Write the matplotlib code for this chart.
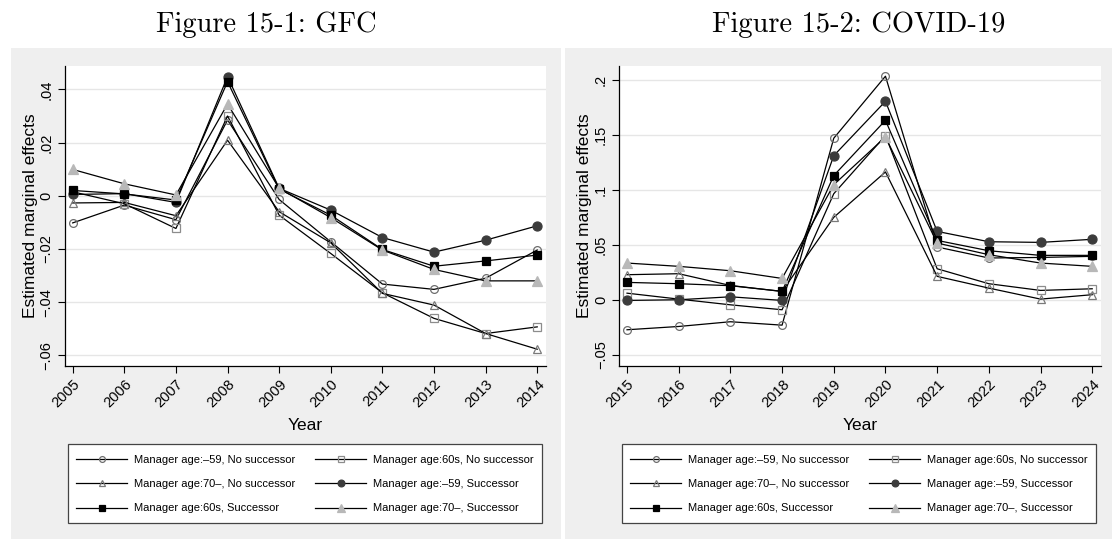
import numpy as np
import matplotlib
matplotlib.use("Agg")
import matplotlib.pyplot as plt
from matplotlib.patches import Rectangle

plt.rcParams['font.family'] = ['Liberation Sans', 'DejaVu Sans']

# Data

years_gfc = [2005, 2006, 2007, 2008, 2009, 2010, 2011, 2012, 2013, 2014]
gfc_u59_no = [-0.0102, -0.0035, -0.0090, 0.0285, -0.0014, -0.0173, -0.0332, -0.0352, -0.0310, -0.0204]
gfc_60s_no = [0.0015, -0.0030, -0.0123, 0.0300, -0.0073, -0.0217, -0.0365, -0.0461, -0.0518, -0.0493]
gfc_70_no = [-0.0027, -0.0025, -0.0075, 0.0209, -0.0060, -0.0177, -0.0367, -0.0411, -0.0518, -0.0577]
gfc_u59_s = [0.0005, 0.0008, -0.0025, 0.0448, 0.0028, -0.0054, -0.0157, -0.0212, -0.0167, -0.0113]
gfc_60s_s = [0.0020, 0.0007, -0.0016, 0.0429, 0.0025, -0.0073, -0.0202, -0.0265, -0.0245, -0.0223]
gfc_70_s = [0.0099, 0.0045, 0.0003, 0.0345, 0.0028, -0.0082, -0.0204, -0.0277, -0.0320, -0.0320]

years_cov = [2015, 2016, 2017, 2018, 2019, 2020, 2021, 2022, 2023, 2024]
cov_u59_no = [-0.0273, -0.0243, -0.0200, -0.0231, 0.1470, 0.2034, 0.0480, 0.0380, 0.0385, 0.0395]
cov_60s_no = [0.0060, 0.0006, -0.0046, -0.0091, 0.0965, 0.1494, 0.0282, 0.0146, 0.0085, 0.0100]
cov_70_no = [0.0228, 0.0237, 0.0130, 0.0076, 0.0750, 0.1163, 0.0213, 0.0106, 0.0006, 0.0046]
cov_u59_s = [-0.0006, 0.0000, 0.0027, -0.0006, 0.1311, 0.1806, 0.0622, 0.0528, 0.0522, 0.0550]
cov_60s_s = [0.0158, 0.0146, 0.0128, 0.0076, 0.1130, 0.1633, 0.0540, 0.0446, 0.0404, 0.0404]
cov_70_s = [0.0334, 0.0304, 0.0264, 0.0194, 0.1047, 0.1481, 0.0516, 0.0410, 0.0334, 0.0304]

labels = ["Manager age:\u201359, No successor", "Manager age:60s, No successor",
          "Manager age:70\u2013, No successor", "Manager age:\u201359, Successor",
          "Manager age:60s, Successor", "Manager age:70\u2013, Successor"]

gfc_ticks = [0.04, 0.02, 0, -0.02, -0.04, -0.06]
cov_ticks = [0.2, 0.15, 0.1, 0.05, 0, -0.05]

# marker styles: (marker, edge, face, size)
styles = [("o", "#6e6e6e", "none", 5.6),
          ("s", "#8c8c8c", "none", 5.4),
          ("^", "#7a7a7a", "none", 5.8),
          ("o", "#3c3c3c", "#3c3c3c", 6.5),
          ("s", "#000000", "#000000", 6.3),
          ("^", "#b8b8b8", "#b8b8b8", 7.0)]

W, H = 1112, 541
fig = plt.figure(figsize=(W / 100, H / 100), dpi=100)
fig.patch.set_facecolor("white")


def rect(x0, y0, x1, y1, **kw):
    # pixel box (top-left origin) -> figure rectangle
    r = Rectangle((x0 / W, (H - y1) / H), (x1 - x0) / W, (y1 - y0) / H,
                  transform=fig.transFigure, **kw)
    fig.patches.append(r)


# grey panel backgrounds
rect(11, 48, 561, 539, facecolor="#efefef", edgecolor="none", zorder=-5)
rect(565, 48, 1112, 539, facecolor="#efefef", edgecolor="none", zorder=-5)


def fmt(v):
    if v == 0:
        return "0"
    s = ("%g" % abs(v)).lstrip("0")
    return ("\u2212" + s) if v < 0 else s


def panel(px0, px1, years, series, ticks, ylim, title, title_cx, lg_x0):
    ax = fig.add_axes([px0 / W, (H - 365.7) / H, (px1 - px0) / W, (365.7 - 66) / H])
    ax.set_facecolor("white")
    lines = []
    for (m, ec, fc, ms), ys, lab in zip(styles, series, labels):
        ln, = ax.plot(years, ys, color="black", lw=0.9, marker=m, markersize=ms,
                      markeredgecolor=ec, markerfacecolor=fc, markeredgewidth=0.9,
                      label=lab)
        lines.append(ln)
    ax.set_xlim(years[0] - 0.155, years[-1] + 0.17)
    ax.set_ylim(*ylim)
    ax.set_yticks(ticks)
    ax.set_yticklabels([fmt(t) for t in ticks], rotation=90, va="center")
    ax.set_xticks(years)
    ax.set_xticklabels([str(y) for y in years], rotation=45, ha="right",
                       rotation_mode="anchor")
    ax.tick_params(axis="both", length=5, width=0.8, labelsize=10.5, pad=3)
    ax.grid(axis="y", color="#e6e6e6", lw=1.0)
    ax.set_axisbelow(True)
    for s in ["top", "right"]:
        ax.spines[s].set_visible(False)
    for s in ["left", "bottom"]:
        ax.spines[s].set_linewidth(0.9)
    ax.set_xlabel("Year", fontsize=12.5, labelpad=6)
    ax.set_ylabel("Estimated marginal effects", fontsize=12.5, labelpad=1)
    fig.text(title_cx / W, 1 - 25 / H, title, family="cmr10", fontsize=20.5,
             ha="center", va="center")

    # legend box drawn by hand, entries placed inside it
    lg_x1 = lg_x0 + 474
    rect(lg_x0, 444, lg_x1, 523, facecolor="white", edgecolor="#444444",
         lw=0.9, zorder=-1)
    order = [0, 2, 4, 1, 3, 5]
    ax.legend([lines[i] for i in order], [labels[i] for i in order],
              loc="center", bbox_to_anchor=((lg_x0 + lg_x1) / 2 / W, 1 - 484 / H),
              bbox_transform=fig.transFigure, ncol=2, fontsize=8, frameon=False,
              handlelength=4.6, handletextpad=0.63, columnspacing=1.8,
              labelspacing=1.3, borderpad=0.3, markerscale=0.75)
    return ax


panel(64.7, 546, years_gfc,
      [gfc_u59_no, gfc_60s_no, gfc_70_no, gfc_u59_s, gfc_60s_s, gfc_70_s],
      gfc_ticks, (-0.0639, 0.0488), "Figure 15-1: GFC", 266, 68)
panel(619, 1101, years_cov,
      [cov_u59_no, cov_60s_no, cov_70_no, cov_u59_s, cov_60s_s, cov_70_s],
      cov_ticks, (-0.06, 0.2127), "Figure 15-2: COVID-19", 859, 622)

fig.savefig("out.png", dpi=100)
